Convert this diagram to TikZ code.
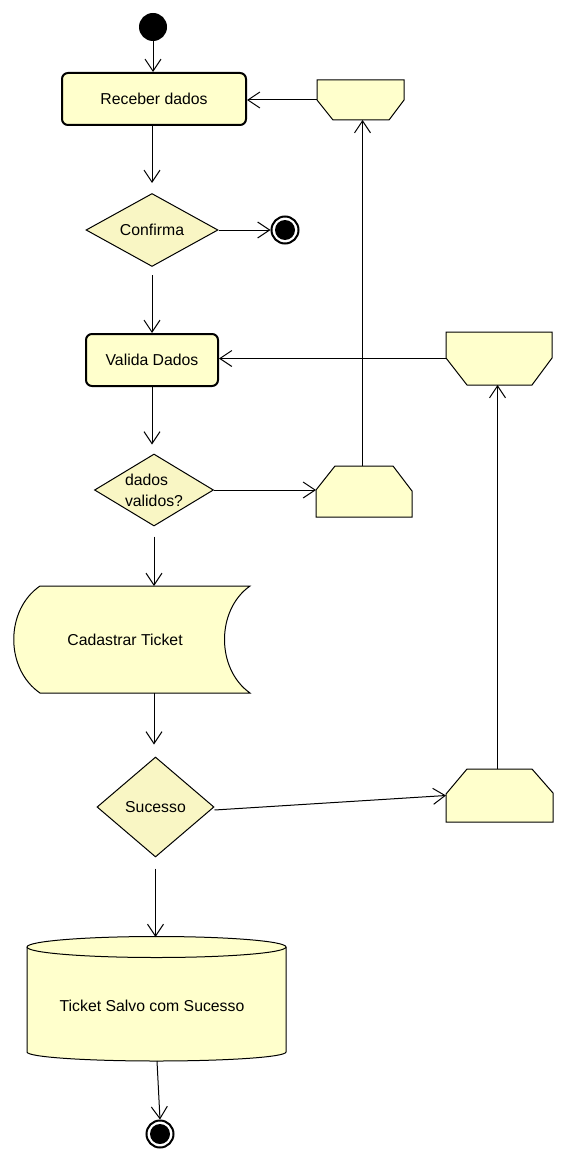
\documentclass[tikz,border=0pt]{standalone}
\usepackage{fontspec}
\setmainfont{Liberation Sans}
\usetikzlibrary{arrows.meta,shapes.geometric,calc}
\definecolor{boxfill}{HTML}{FFFFCC}
\definecolor{decfill}{HTML}{F9F6C4}
\begin{document}
\begin{tikzpicture}[x=1pt,y=-1pt,
  every node/.style={font=\fontsize{15.8}{21}\selectfont},
  conn/.style={draw,line width=1pt,-{Straight Barb[length=12pt,width=16pt,line width=1pt]}},
  actionbox/.style={draw,line width=2pt,rounded corners=6pt,fill=boxfill,inner sep=0pt},
  decision/.style={draw,line width=1pt,diamond,fill=decfill,inner sep=0pt,aspect=1.7},
  ghost/.style={inner sep=0pt,outer sep=0pt},
  sigshape/.style={draw,line width=1pt,fill=boxfill,line join=miter},
  startnode/.style={circle,fill=black,minimum size=28pt,inner sep=0pt},
  endouter/.style={circle,draw,line width=2pt,fill=white,minimum size=27pt,inner sep=0pt},
]
\useasboundingbox[fill=white] (0,0) rectangle (565,1161);

% start
\node[startnode] (start) at (153,27) {};

% Receber dados
\node[actionbox,minimum width=184pt,minimum height=52pt] (receber) at (154,99) {Receber dados};

% Confirma
\node[decision,minimum width=132pt,minimum height=73pt] (confirma) at (152,230) {Confirma};

% final 1
\node[endouter] (fin1) at (285,230) {};
\fill (fin1.center) circle (10pt);

% Valida Dados
\node[actionbox,minimum width=132pt,minimum height=52pt] (valida) at (152,360) {Valida Dados};

% dados validos?
\node[decision,minimum width=119pt,minimum height=72pt,align=left] (dados) at (154,490) {dados\\validos?};

% signal shapes
\draw[sigshape] (317,80) -- (404,80) -- (404,100) -- (389,120) -- (333,120) -- (317,100) -- cycle;
\node[ghost,minimum width=87pt,minimum height=40pt] (s0) at (360.5,100) {};
\draw[sigshape] (316,517) -- (316,490) -- (335,466) -- (393,466) -- (412,491) -- (412,517) -- cycle;
\node[ghost,minimum width=96pt,minimum height=51pt] (s1) at (364,491.5) {};
\draw[sigshape] (446,332) -- (552,332) -- (552,358) -- (532,385) -- (467,385) -- (446,358) -- cycle;
\node[ghost,minimum width=106pt,minimum height=53pt] (s2) at (499,358.5) {};
\draw[sigshape] (446,822) -- (446,794) -- (467,769) -- (532,769) -- (553,793) -- (553,822) -- cycle;
\node[ghost,minimum width=107pt,minimum height=53pt] (s3) at (499.5,795.5) {};

% Cadastrar Ticket
\draw[line width=1pt,fill=boxfill] (40,586) -- (250,586) .. controls (216,610) and (216,669) .. (250,693) -- (40,693) .. controls (5,669) and (5,610) .. (40,586) -- cycle;
\node[ghost,minimum width=222pt,minimum height=107pt] (cad) at (125,639.5) {Cadastrar Ticket};

% Sucesso
\node[decision,minimum width=117pt,minimum height=100pt,aspect=1.17] (sucesso) at (155.5,807) {Sucesso};

% cylinder
\draw[line width=1pt,fill=boxfill] (27,947) -- (27,1052) arc[start angle=180,end angle=0,x radius=129.5,y radius=9] -- (286,947) arc[start angle=0,end angle=-180,x radius=129.5,y radius=10.5] -- cycle;
\draw[line width=1pt] (27,947) arc[start angle=180,end angle=0,x radius=129.5,y radius=10.5];
\node[ghost,minimum width=259pt,minimum height=124pt] (cyl) at (156.5,999) {};
\node (cyltext) at (152,1006) {Ticket Salvo com Sucesso};

% final 2
\node[endouter] (fin2) at (160,1134) {};
\fill (fin2.center) circle (10pt);

% connectors
\draw[conn] (start) -- (receber.north -| start);
\draw[conn,shorten >=10pt] (receber.south -| confirma) -- (confirma.north);
\draw[conn] (confirma.east) -- (fin1.west);
\draw[conn,shorten <=8pt] (confirma.south) -- (valida.north -| confirma);
\draw[conn] (s0.west) -- (s0.west -| receber.east);
\draw[conn,shorten >=9pt] (valida.south) -- (valida.south |- dados.north);
\draw[conn] ([xshift=-1.5pt]s1.north) -- ([xshift=-1.5pt]s1.north |- s0.south);
\draw[conn] (dados.east) -- (dados.east -| s1.west);
\draw[conn] (s2.west) -- (s2.west -| valida.east);
\draw[conn,shorten <=10pt] (dados.south) -- (dados.south |- cad.north);
\draw[conn,shorten >=12pt] (cad.north |- cad.south) ++(29,0) coordinate (cadout) (cadout) -- (cadout |- sucesso.north);
\draw[conn] ([yshift=-3pt]sucesso.east) -- (s3.west);
\draw[conn] ([xshift=-2pt]s3.north) -- ([xshift=-2pt]s3.north |- s2.south);
\draw[conn,shorten <=11pt] (sucesso.south) -- (sucesso.south |- cyl.north);
\draw[conn] ([xshift=0.5pt]cyl.south |- 0,1061) -- (fin2.north);
\end{tikzpicture}
\end{document}
